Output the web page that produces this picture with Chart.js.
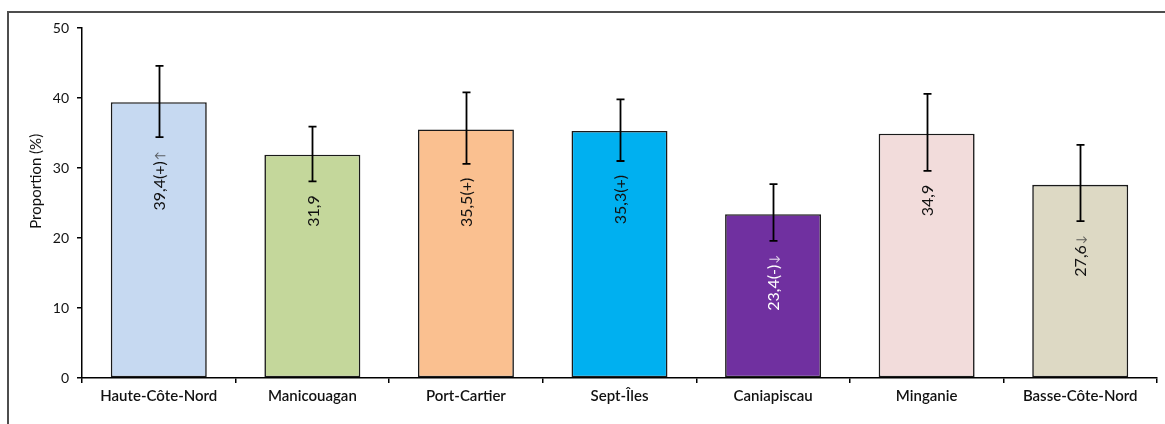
<!DOCTYPE html>
<html>
<head>
<meta charset="utf-8">
<script src="https://cdn.jsdelivr.net/npm/chart.js@4.4.1/dist/chart.umd.min.js"></script>
<style>
html,body{margin:0;padding:0;background:#fff;}
#wrap{width:1165px;height:424px;position:relative;}
</style>
</head>
<body>
<div id="wrap"><canvas id="c" width="1165" height="424"></canvas></div>
<script>
const categories = ['Haute-Côte-Nord', 'Manicouagan', 'Port-Cartier', 'Sept-Îles', 'Caniapiscau', 'Minganie', 'Basse-Côte-Nord'];
const values = [39.4, 31.9, 35.5, 35.3, 23.4, 34.9, 27.6];
const ciLow = [34.4, 28.1, 30.6, 31.0, 19.6, 29.6, 22.4];
const ciHigh = [44.6, 35.9, 40.8, 39.8, 27.7, 40.6, 33.3];
const valueLabels = ['39,4(+)', '31,9', '35,5(+)', '35,3(+)', '23,4(-)', '34,9', '27,6'];
const arrows = ['↑', '', '', '', '↓', '', '↓'];
const barColors = ['#C6D9F1', '#C4D79B', '#FAC090', '#00B0F0', '#7030A0', '#F2DCDB', '#DDD9C4'];
const labelColors = ['#111', '#111', '#111', '#111', '#fff', '#111', '#111'];
const yTicks = [0, 10, 20, 30, 40, 50];
const yTitle = 'Proportion (%)';

const FONT = 'Lato, "Open Sans", sans-serif';

const framePlugin = {
  id: 'frame',
  beforeDraw(chart) {
    const ctx = chart.ctx;
    ctx.save();
    ctx.strokeStyle = '#4d4d4d';
    ctx.lineWidth = 2;
    ctx.beginPath();
    ctx.moveTo(8, 424);
    ctx.lineTo(8, 12);
    ctx.lineTo(1165, 12);
    ctx.stroke();
    const y = chart.scales.y;
    ctx.fillStyle = '#111';
    ctx.font = '15px ' + FONT;
    ctx.textAlign = 'center';
    ctx.textBaseline = 'middle';
    ctx.translate(36, y.getPixelForValue(28.1));
    ctx.rotate(-Math.PI / 2);
    ctx.fillText(yTitle, 0, 0);
    ctx.restore();
  }
};

const errorPlugin = {
  id: 'errs',
  afterDatasetsDraw(chart) {
    const ctx = chart.ctx;
    const meta = chart.getDatasetMeta(0);
    const y = chart.scales.y;
    ctx.save();
    meta.data.forEach((bar, i) => {
      const x = Math.round(bar.x) + 0.5;
      const yl = y.getPixelForValue(ciLow[i]);
      const yh = y.getPixelForValue(ciHigh[i]);
      ctx.strokeStyle = '#000';
      ctx.lineWidth = 1.8;
      ctx.beginPath();
      ctx.moveTo(x, yl); ctx.lineTo(x, yh);
      ctx.moveTo(x - 4, yl); ctx.lineTo(x + 4, yl);
      ctx.moveTo(x - 4, yh); ctx.lineTo(x + 4, yh);
      ctx.stroke();
      const y0 = yl + 14;
      ctx.save();
      ctx.translate(bar.x + 1, y0);
      ctx.rotate(-Math.PI / 2);
      ctx.textBaseline = 'middle';
      ctx.textAlign = 'left';
      ctx.font = '16px ' + FONT;
      const w = ctx.measureText(valueLabels[i]).width;
      ctx.font = '12px ' + FONT;
      const a = arrows[i] ? ctx.measureText(arrows[i]).width + 1 : 0;
      ctx.font = '16px ' + FONT;
      ctx.fillStyle = labelColors[i];
      ctx.fillText(valueLabels[i], -(w + a), 0);
      if (arrows[i]) {
        ctx.font = '12px ' + FONT;
        ctx.fillStyle = labelColors[i] === '#fff' ? 'rgba(255,255,255,0.8)' : 'rgba(60,60,60,0.8)';
        ctx.fillText(arrows[i], -a + 1, 0);
      }
      ctx.restore();
    });
    ctx.restore();
  }
};

new Chart(document.getElementById('c'), {
  type: 'bar',
  data: {
    labels: categories,
    datasets: [{
      data: values,
      backgroundColor: barColors,
      borderColor: '#1a1a1a',
      borderWidth: 1.6,
      borderSkipped: false,
      barPercentage: 0.625,
      categoryPercentage: 1.0
    }]
  },
  options: {
    responsive: false,
    animation: false,
    events: [],
    layout: { padding: { left: 0, top: 28, right: 8, bottom: 0 } },
    plugins: { legend: { display: false }, tooltip: { enabled: false } },
    scales: {
      x: {
        offset: true,
        grid: { display: true, drawOnChartArea: false, drawTicks: true, tickLength: 5, color: '#000', lineWidth: 1.5, offset: true },
        border: { display: true, color: '#000', width: 1.5 },
        ticks: { color: '#111', font: { family: FONT, size: 15, weight: '600' }, padding: 4, maxRotation: 0, autoSkip: false },
        afterFit(s) { s.height = 46; }
      },
      y: {
        min: 0, max: 50,
        afterBuildTicks(s) { s.ticks = yTicks.map(v => ({ value: v })); },
        grid: { display: true, drawOnChartArea: false, drawTicks: true, tickLength: 5, color: '#000', lineWidth: 1.5 },
        border: { display: true, color: '#000', width: 1.5 },
        ticks: { color: '#111', font: { family: FONT, size: 14 }, padding: 8 },
        afterFit(s) { s.width = 82; }
      }
    }
  },
  plugins: [framePlugin, errorPlugin]
});
</script>
</body>
</html>
